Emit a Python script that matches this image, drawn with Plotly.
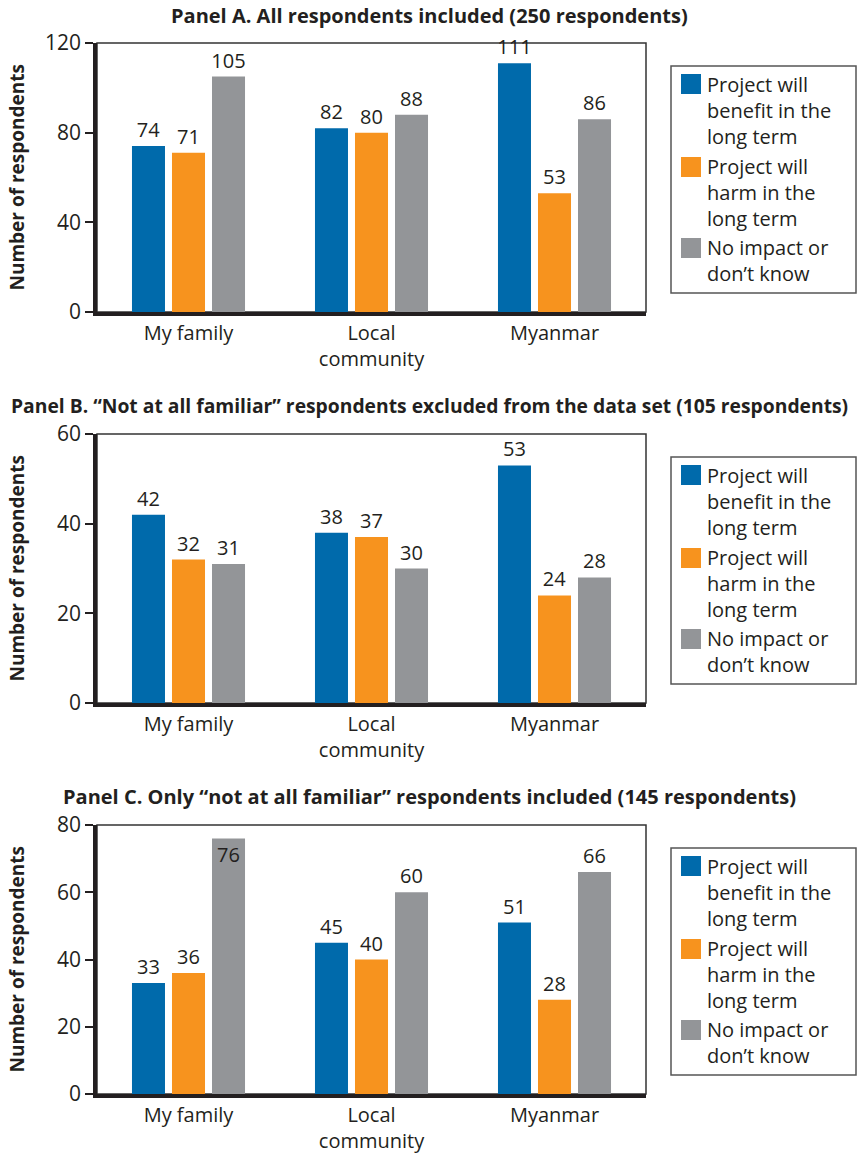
import plotly.graph_objects as go

# ---- data -------------------------------------------------------------
categories = ["My family", "Local<br>community", "Myanmar"]
series_names = [
    "Project will<br>benefit in the<br>long term",
    "Project will<br>harm in the<br>long term",
    "No impact or<br>don\u2019t know",
]

panel_titles = [
    "Panel A. All respondents included (250 respondents)",
    "Panel B. \u201cNot at all familiar\u201d respondents excluded from the data set (105 respondents)",
    "Panel C. Only \u201cnot at all familiar\u201d respondents included (145 respondents)",
]
title_sizes = [20, 19.3, 20]

# Panel A
a_benefit = [74, 82, 111]
a_harm = [71, 80, 53]
a_none = [105, 88, 86]
a_ticks = [0, 40, 80, 120]

# Panel B
b_benefit = [42, 38, 53]
b_harm = [32, 37, 24]
b_none = [31, 30, 28]
b_ticks = [0, 20, 40, 60]

# Panel C
c_benefit = [33, 45, 51]
c_harm = [36, 40, 28]
c_none = [76, 60, 66]
c_ticks = [0, 20, 40, 60, 80]

panels = [
    (a_benefit, a_harm, a_none, a_ticks),
    (b_benefit, b_harm, b_none, b_ticks),
    (c_benefit, c_harm, c_none, c_ticks),
]

# ---- styling ----------------------------------------------------------
W, H = 857, 1154
colors = ["#006AAB", "#F7931E", "#939598"]
ink = "#231f20"
font_reg = "Open Sans, Noto Sans, sans-serif"
font_title = "Open Sans, Noto Sans, sans-serif"

plot_left, plot_right = 97, 646
panel_tops = [43, 434, 825]
panel_height = 269
panel_shift = [0, 391, 782]


def px_x(x):
    return x / W


def px_y(y):
    return 1 - y / H


fig = go.Figure()
layout = dict(
    width=W,
    height=H,
    margin=dict(l=0, r=0, t=0, b=0, autoexpand=False),
    paper_bgcolor="white",
    plot_bgcolor="white",
    barmode="group",
    bargap=0.344,
    bargroupgap=0.175,
    showlegend=False,
    font=dict(family=font_reg, color=ink, size=20),
)

shapes = []
annotations = []

for i, (ben, harm, none, ticks) in enumerate(panels):
    sfx = "" if i == 0 else str(i + 1)
    xa, ya = "x" + sfx, "y" + sfx
    top = panel_tops[i]
    bottom = top + panel_height
    ymax = ticks[-1]

    for values, color, name in zip((ben, harm, none), colors, series_names):
        positions = []
        for v in values:
            # labels that would cross the top edge sit inside the bar
            positions.append("inside" if v > ymax * 0.93 else "outside")
        fig.add_trace(
            go.Bar(
                x=categories,
                y=values,
                name=name,
                marker=dict(color=color, line=dict(width=0)),
                text=[str(v) for v in values],
                textposition=positions,
                insidetextanchor="end",
                textfont=dict(size=20, color=ink, family=font_reg),
                insidetextfont=dict(size=20, color=ink, family=font_reg),
                outsidetextfont=dict(size=20, color=ink, family=font_reg),
                constraintext="none",
                cliponaxis=False,
                xaxis=xa,
                yaxis=ya,
                hoverinfo="skip",
            )
        )

    layout["xaxis" + sfx] = dict(
        domain=[px_x(plot_left), px_x(plot_right)],
        anchor=ya,
        automargin=False,
        showline=True,
        linewidth=3.5,
        linecolor=ink,
        ticks="",
        showgrid=False,
        zeroline=False,
        tickfont=dict(size=20, color=ink, family=font_reg),
        fixedrange=True,
    )
    layout["yaxis" + sfx] = dict(
        domain=[px_y(bottom), px_y(top)],
        anchor=xa,
        automargin=False,
        range=[0, ymax],
        tickvals=ticks,
        ticks="outside",
        ticklen=8,
        tickwidth=1.5,
        tickcolor=ink,
        showline=True,
        linewidth=3.5,
        linecolor=ink,
        showgrid=False,
        zeroline=False,
        tickfont=dict(size=21, color=ink, family=font_reg),
        fixedrange=True,
    )

    # thin frame around the plotting area
    shapes.append(
        dict(
            type="rect",
            xref=xa + " domain",
            yref=ya + " domain",
            x0=0, x1=1, y0=0, y1=1,
            line=dict(color="#333333", width=1.5),
            layer="below",
        )
    )

    # panel title
    annotations.append(
        dict(
            text="<b>" + panel_titles[i] + "</b>",
            xref="paper", yref="paper",
            x=px_x(430), y=px_y(top - 28),
            xanchor="center", yanchor="middle",
            showarrow=False,
            font=dict(size=title_sizes[i], color=ink, family=font_title),
        )
    )

    # y-axis title
    annotations.append(
        dict(
            text="<b>Number of respondents</b>",
            xref="paper", yref="paper",
            x=px_x(16), y=px_y(top + panel_height / 2),
            xanchor="center", yanchor="middle",
            textangle=-90,
            showarrow=False,
            font=dict(size=19, color=ink, family=font_reg),
        )
    )

    # legend box
    dy = panel_shift[i]
    shapes.append(
        dict(
            type="rect", xref="paper", yref="paper",
            x0=px_x(671), x1=px_x(856), y0=px_y(66 + dy), y1=px_y(293 + dy),
            line=dict(color="#555555", width=1.5),
            fillcolor="white",
        )
    )
    sq_tops = [74, 157, 238]
    text_mid = [110.5, 192.5, 260.5]
    for color, name, st, tm in zip(colors, series_names, sq_tops, text_mid):
        shapes.append(
            dict(
                type="rect", xref="paper", yref="paper",
                x0=px_x(681), x1=px_x(701),
                y0=px_y(st + dy), y1=px_y(st + 20 + dy),
                line=dict(width=0),
                fillcolor=color,
            )
        )
        annotations.append(
            dict(
                text=name,
                xref="paper", yref="paper",
                x=px_x(705), y=px_y(tm + dy),
                xanchor="left", yanchor="middle", align="left",
                showarrow=False,
                font=dict(size=20, color=ink, family=font_reg),
            )
        )

layout["shapes"] = shapes
layout["annotations"] = annotations
fig.update_layout(**layout)

fig.write_html("out.html")
